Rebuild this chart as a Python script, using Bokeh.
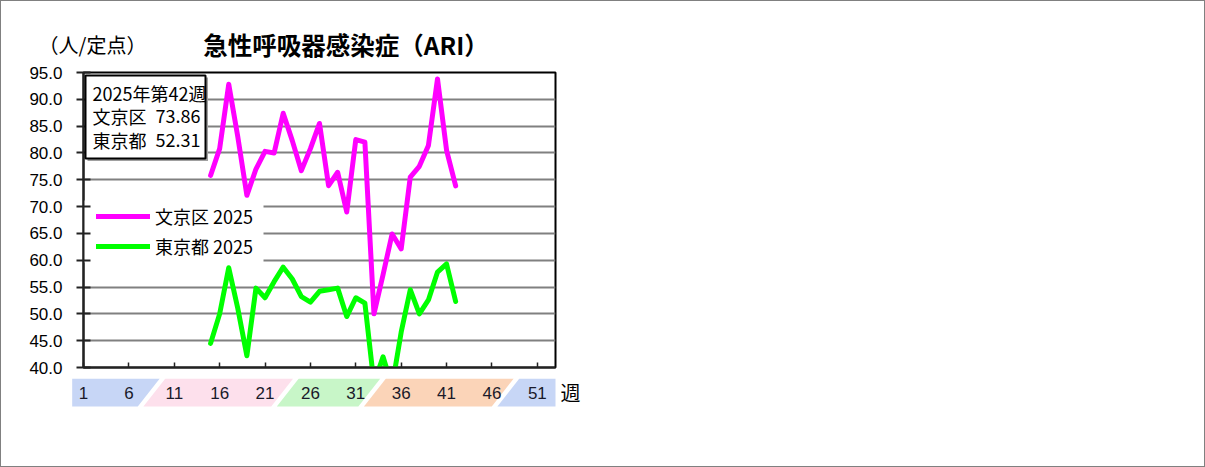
from bokeh.plotting import figure
from bokeh.models import (Range1d, FixedTicker, PrintfTickFormatter, Label, BoxAnnotation,
                          Legend, LegendItem, ColumnDataSource)
from bokeh.layouts import column
from bokeh.embed import file_html
from bokeh.resources import INLINE
from bokeh.core.properties import value

# ---------------- data ----------------
weeks = list(range(15, 43))
bunkyo = [75.8, 80.8, 92.8, 83.0, 72.1, 77.0, 80.3, 80.0, 87.4, 82.3, 76.7, 80.8, 85.5, 73.9,
          76.4, 69.0, 82.5, 82.0, 50.0, 57.3, 64.9, 62.1, 75.5, 77.5, 81.4, 93.8, 80.5, 73.86]
tokyo = [44.5, 50.0, 58.6, 51.0, 42.2, 54.8, 53.0, 56.0, 58.7, 56.5, 53.2, 52.2, 54.2, 54.5,
         54.8, 49.5, 53.0, 52.0, 37.0, 42.0, 36.5, 46.6, 54.5, 50.0, 52.6, 57.8, 59.3, 52.31]
series_names = ["文京区 2025", "東京都 2025"]
series_colors = ["#ff00ff", "#00ff00"]
y_ticks = [40, 45, 50, 55, 60, 65, 70, 75, 80, 85, 90, 95]
week_ticks = [1, 6, 11, 16, 21, 26, 31, 36, 41, 46, 51]
latest_week_label = "2025年第42週"
latest_names = ["文京区", "東京都"]
latest_values = ["73.86", "52.31"]
title_text = "急性呼吸器感染症（ARI）"
unit_text = "（人/定点）"
week_unit = "週"
season_edges = [8.5, 23.2, 32.8, 47.5]
season_colors = ["#c7d6f6", "#fde0ec", "#c8f6c8", "#fbd4b8", "#c7d6f6"]

FONT = "Noto Sans CJK JP"
NUMFONT = "Liberation Sans"

# ---------------- geometry (reference page pixels) ----------------
W = 1203                          # inner width (1px border each side)
TOP_A, BOT_A = 62, 378            # page rows covered by the main chart figure
FL, FR, FT, FB = 83, 555, 72, 367  # plot frame in page pixels
X0, X1, Y0, Y1 = 1, 53, 40, 95
PPW = (FR - FL) / (X1 - X0)
PPU = (FB - FT) / (Y1 - Y0)
BAND_T, BAND_B = 378, 406


def dx(xr):
    return X0 + (xr - FL) / PPW


def dy(yr):
    return Y1 - (yr - FT) / PPU


def bare(fig):
    fig.grid.visible = False
    fig.outline_line_color = None
    fig.background_fill_color = "#ffffff"
    fig.border_fill_color = "#ffffff"
    fig.frame_align = False


# ---------------- heading strip ----------------
pt = figure(width=W, height=TOP_A - 1, x_range=Range1d(1, 1 + W), y_range=Range1d(TOP_A, 1),
            output_backend="svg", toolbar_location=None,
            x_axis_location=None, y_axis_location=None, min_border=0)
bare(pt)
pt.text(x=[345.5], y=[44], text=[title_text], text_align="center", text_baseline="middle",
        text_font=value(FONT), text_font_size="24.5px", text_font_style="bold",
        text_color="#000000")
pt.text(x=[92], y=[44], text=[unit_text], text_align="center", text_baseline="middle",
        text_font=value(FONT), text_font_size="20px", text_color="#000000")

# ---------------- main chart ----------------
pa = figure(width=W, height=BOT_A - TOP_A, x_range=Range1d(X0, X1), y_range=Range1d(Y0, Y1),
            output_backend="svg", toolbar_location=None,
            min_border_left=FL - 1, min_border_right=(1 + W) - FR,
            min_border_top=FT - TOP_A, min_border_bottom=BOT_A - FB)
pa.frame_align = False
pa.outline_line_color = "#000000"
pa.outline_line_width = 2
pa.background_fill_color = "#ffffff"
pa.border_fill_color = "#ffffff"

pa.xgrid.visible = False
pa.ygrid.ticker = FixedTicker(ticks=y_ticks[1:-1])
pa.ygrid.grid_line_color = "#808080"
pa.ygrid.grid_line_width = 2

ya = pa.yaxis[0]
ya.ticker = FixedTicker(ticks=y_ticks)
ya.formatter = PrintfTickFormatter(format="%.1f")
ya.major_label_text_font = NUMFONT
ya.major_label_text_font_size = "17px"
ya.major_label_text_color = "#000000"
ya.major_tick_in = 7
ya.major_tick_out = 7
ya.minor_tick_line_color = None
ya.axis_line_color = "#222222"
ya.axis_line_width = 2
ya.major_tick_line_color = "#222222"
ya.major_tick_line_width = 2
ya.major_label_standoff = 14

xa = pa.xaxis[0]
xa.ticker = FixedTicker(ticks=week_ticks)
xa.major_label_text_font_size = "0px"
xa.major_label_text_alpha = 0
xa.major_label_standoff = 0
xa.major_tick_in = 5
xa.major_tick_out = 0
xa.minor_tick_line_color = None
xa.axis_line_color = "#222222"
xa.axis_line_width = 2
xa.major_tick_line_color = "#222222"
xa.major_tick_line_width = 1.5

# legend background (white, hides gridlines)
pa.add_layout(BoxAnnotation(left=X0, right=dx(263), top=dy(200), bottom=dy(262),
                            fill_color="#ffffff", fill_alpha=1.0, line_color=None,
                            level="underlay"))

renderers = []
for vals, col in zip([bunkyo, tokyo], series_colors):
    src = ColumnDataSource(dict(week=weeks, val=vals))
    r = pa.line("week", "val", source=src, line_color=col, line_width=5,
                line_join="round", line_cap="round")
    renderers.append(r)

legend = Legend(items=[LegendItem(label=n, renderers=[r]) for n, r in zip(series_names, renderers)],
                location=(13, 106), orientation="vertical",
                background_fill_alpha=0, border_line_color=None,
                padding=0, margin=0, spacing=0,
                glyph_width=54, glyph_height=30, label_height=30, label_standoff=5,
                label_text_font=FONT, label_text_font_size="18px", label_text_color="#000000")
pa.add_layout(legend)

# info box with shadow
pa.add_layout(BoxAnnotation(left=dx(87), right=dx(207.5), top=dy(77), bottom=dy(160.5),
                            fill_color="#a0a0a0", fill_alpha=1.0, line_color=None))
pa.add_layout(BoxAnnotation(left=dx(85), right=dx(205), top=dy(75), bottom=dy(158),
                            fill_color="#ffffff", fill_alpha=1.0,
                            line_color="#000000", line_alpha=1.0, line_width=2))
pa.add_layout(Label(x=dx(92), y=dy(92), text=latest_week_label, text_baseline="middle",
                    text_align="left", text_font=FONT, text_font_size="18px",
                    text_color="#000000"))
for name, val, yr in zip(latest_names, latest_values, [115, 139]):
    pa.add_layout(Label(x=dx(92), y=dy(yr), text=name, text_baseline="middle",
                        text_align="left", text_font=FONT, text_font_size="18px",
                        text_color="#000000"))
    pa.add_layout(Label(x=dx(200), y=dy(yr), text=val, text_baseline="middle",
                        text_align="right", text_font=FONT, text_font_size="18px",
                        text_color="#000000"))

# ---------------- season band with week labels ----------------
pb = figure(width=W, height=466 - BOT_A,
            x_range=Range1d(dx(1), dx(1 + W)), y_range=Range1d(466, BOT_A),
            output_backend="svg", toolbar_location=None,
            x_axis_location=None, y_axis_location=None, min_border=0)
bare(pb)

slant = 11 / PPW
gap = 2.8 / PPW
bounds = [dx(71.7)] + season_edges + [X1]
xs, ys = [], []
for i in range(len(bounds) - 1):
    L, R = bounds[i], bounds[i + 1]
    if i == 0:
        tl = bl = L
    else:
        tl, bl = L + gap + slant, L + gap - slant
    if i == len(bounds) - 2:
        tr = br = R
    else:
        tr, br = R - gap + slant, R - gap - slant
    xs.append([tl, tr, br, bl])
    ys.append([BAND_T, BAND_T, BAND_B, BAND_B])
pb.patches(xs, ys, fill_color=season_colors, line_color=None)

mid = (BAND_T + BAND_B) / 2
pb.text(x=week_ticks, y=[mid] * len(week_ticks), text=[str(w) for w in week_ticks],
        text_align="center", text_baseline="middle", text_font=value(NUMFONT),
        text_font_size="17px", text_color="#1a1a2a")
pb.text(x=[dx(570)], y=[mid], text=[week_unit], text_align="center", text_baseline="middle",
        text_font=value(FONT), text_font_size="20px", text_color="#000000")

layout = column(pt, pa, pb, spacing=0, styles={"border": "1px solid #808080"})

open("out.html", "w").write(file_html(layout, INLINE))
